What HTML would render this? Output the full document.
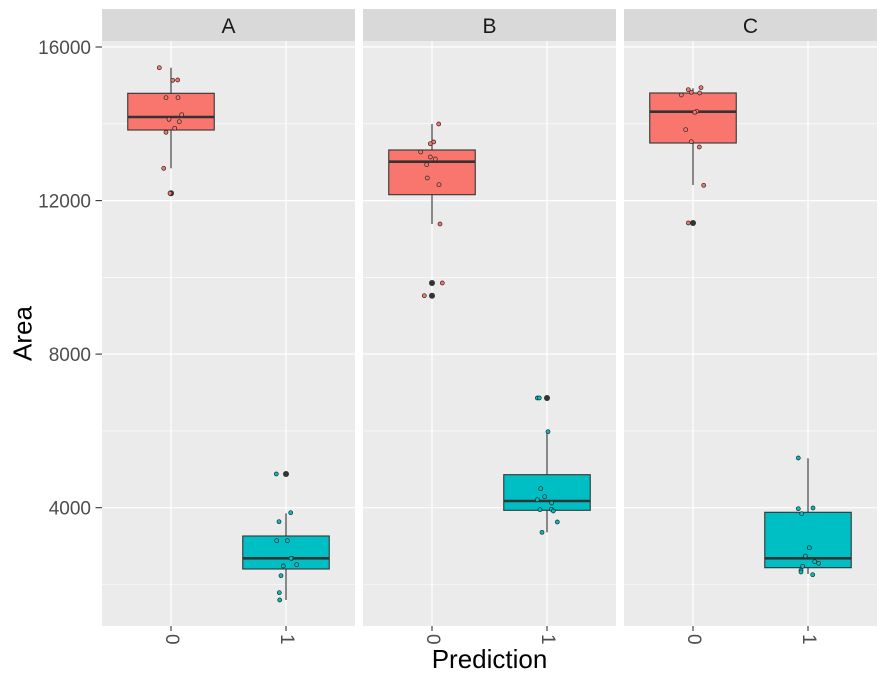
<!DOCTYPE html>
<html>
<head>
<meta charset="utf-8">
<style>
  html, body { margin: 0; padding: 0; background: #ffffff; }
  svg { display: block; font-family: "Liberation Sans", Arial, sans-serif; }
</style>
</head>
<body>
<svg width="884" height="681" viewBox="0 0 884 681" xmlns="http://www.w3.org/2000/svg">
  <rect x="0" y="0" width="884" height="681" fill="#ffffff"/>

  <!-- Strips -->
  <rect x="102" y="9" width="253" height="32" fill="#D9D9D9"/>
  <rect x="363" y="9" width="253" height="32" fill="#D9D9D9"/>
  <rect x="624" y="9" width="253" height="32" fill="#D9D9D9"/>
  <text x="228.5" y="33" font-size="21" fill="#1A1A1A" text-anchor="middle">A</text>
  <text x="489.5" y="33" font-size="21" fill="#1A1A1A" text-anchor="middle">B</text>
  <text x="750.5" y="33" font-size="21" fill="#1A1A1A" text-anchor="middle">C</text>

  <!-- Panels -->
  <g>
    <rect x="102" y="41" width="253" height="585" fill="#EBEBEB"/>
    <rect x="363" y="41" width="253" height="585" fill="#EBEBEB"/>
    <rect x="624" y="41" width="253" height="585" fill="#EBEBEB"/>
  </g>

  <!-- Minor grid -->
  <g stroke="#ffffff" stroke-width="0.6">
    <line x1="102" x2="355" y1="123.8" y2="123.8"/><line x1="363" x2="616" y1="123.8" y2="123.8"/><line x1="624" x2="877" y1="123.8" y2="123.8"/>
    <line x1="102" x2="355" y1="277.4" y2="277.4"/><line x1="363" x2="616" y1="277.4" y2="277.4"/><line x1="624" x2="877" y1="277.4" y2="277.4"/>
    <line x1="102" x2="355" y1="430.9" y2="430.9"/><line x1="363" x2="616" y1="430.9" y2="430.9"/><line x1="624" x2="877" y1="430.9" y2="430.9"/>
    <line x1="102" x2="355" y1="584.5" y2="584.5"/><line x1="363" x2="616" y1="584.5" y2="584.5"/><line x1="624" x2="877" y1="584.5" y2="584.5"/>
  </g>
  <!-- Major grid -->
  <g stroke="#ffffff" stroke-width="1.2">
    <line x1="102" x2="355" y1="47" y2="47"/><line x1="363" x2="616" y1="47" y2="47"/><line x1="624" x2="877" y1="47" y2="47"/>
    <line x1="102" x2="355" y1="200.6" y2="200.6"/><line x1="363" x2="616" y1="200.6" y2="200.6"/><line x1="624" x2="877" y1="200.6" y2="200.6"/>
    <line x1="102" x2="355" y1="354.1" y2="354.1"/><line x1="363" x2="616" y1="354.1" y2="354.1"/><line x1="624" x2="877" y1="354.1" y2="354.1"/>
    <line x1="102" x2="355" y1="507.7" y2="507.7"/><line x1="363" x2="616" y1="507.7" y2="507.7"/><line x1="624" x2="877" y1="507.7" y2="507.7"/>
    <line x1="171" x2="171" y1="41" y2="626"/><line x1="286" x2="286" y1="41" y2="626"/>
    <line x1="432" x2="432" y1="41" y2="626"/><line x1="547" x2="547" y1="41" y2="626"/>
    <line x1="693" x2="693" y1="41" y2="626"/><line x1="808" x2="808" y1="41" y2="626"/>
  </g>

  <!-- Boxplots -->
  <g stroke="#333333" stroke-width="1.1">
    <!-- A0 -->
    <line x1="171" x2="171" y1="67.7" y2="93.3"/><line x1="171" x2="171" y1="130" y2="168.3"/>
    <rect x="127.75" y="93.3" width="86.5" height="36.7" fill="#F8766D"/>
    <line x1="127.75" x2="214.25" y1="117" y2="117" stroke-width="2.6"/>
    <!-- A1 -->
    <line x1="286" x2="286" y1="513.3" y2="536"/><line x1="286" x2="286" y1="569" y2="600"/>
    <rect x="242.75" y="536" width="86.5" height="33" fill="#00BFC4"/>
    <line x1="242.75" x2="329.25" y1="558.3" y2="558.3" stroke-width="2.6"/>
    <!-- B0 -->
    <line x1="432" x2="432" y1="124" y2="150"/><line x1="432" x2="432" y1="194.7" y2="224"/>
    <rect x="388.75" y="150" width="86.5" height="44.7" fill="#F8766D"/>
    <line x1="388.75" x2="475.25" y1="161.7" y2="161.7" stroke-width="2.6"/>
    <!-- B1 -->
    <line x1="547" x2="547" y1="431.7" y2="474.7"/><line x1="547" x2="547" y1="510.3" y2="532.3"/>
    <rect x="503.75" y="474.7" width="86.5" height="35.6" fill="#00BFC4"/>
    <line x1="503.75" x2="590.25" y1="501" y2="501" stroke-width="2.6"/>
    <!-- C0 -->
    <line x1="693" x2="693" y1="88.3" y2="93"/><line x1="693" x2="693" y1="143" y2="185"/>
    <rect x="649.75" y="93" width="86.5" height="50" fill="#F8766D"/>
    <line x1="649.75" x2="736.25" y1="111.7" y2="111.7" stroke-width="2.6"/>
    <!-- C1 -->
    <line x1="808" x2="808" y1="458.3" y2="512.3"/><line x1="808" x2="808" y1="567.7" y2="574"/>
    <rect x="764.75" y="512.3" width="86.5" height="55.4" fill="#00BFC4"/>
    <line x1="764.75" x2="851.25" y1="558.3" y2="558.3" stroke-width="2.6"/>
  </g>

  <!-- Outliers -->
  <g fill="#333333">
    <circle cx="171" cy="193.3" r="3"/>
    <circle cx="286" cy="474" r="3"/>
    <circle cx="432" cy="283" r="3"/>
    <circle cx="432" cy="295.7" r="3"/>
    <circle cx="547" cy="398" r="3"/>
    <circle cx="693" cy="223" r="3"/>
  </g>

  <!-- Jitter points -->
  <g fill="#F8766D" stroke="#222222" stroke-width="0.7">
    <circle cx="159.3" cy="67.7" r="2"/><circle cx="172.7" cy="80.3" r="2"/><circle cx="177.7" cy="80" r="2"/>
    <circle cx="166" cy="97.7" r="2"/><circle cx="178" cy="97.7" r="2"/><circle cx="181.7" cy="114.7" r="2"/>
    <circle cx="169" cy="119.3" r="2"/><circle cx="179.3" cy="121.7" r="2"/><circle cx="174.7" cy="128.3" r="2"/>
    <circle cx="166" cy="132.3" r="2"/><circle cx="163.7" cy="168.3" r="2"/><circle cx="170" cy="193.3" r="2"/>

    <circle cx="438.7" cy="124" r="2"/><circle cx="433.7" cy="142" r="2"/><circle cx="430.3" cy="143.7" r="2"/>
    <circle cx="420.7" cy="152" r="2"/><circle cx="430.3" cy="157" r="2"/><circle cx="435.3" cy="159" r="2"/>
    <circle cx="426.7" cy="164.7" r="2"/><circle cx="427.3" cy="178" r="2"/><circle cx="439" cy="184.7" r="2"/>
    <circle cx="440" cy="224" r="2"/><circle cx="442.3" cy="283" r="2"/><circle cx="424.3" cy="295.7" r="2"/>

    <circle cx="688.3" cy="89.7" r="2"/><circle cx="701" cy="87.7" r="2"/><circle cx="691.3" cy="92.3" r="2"/>
    <circle cx="699.7" cy="93" r="2"/><circle cx="681.3" cy="95" r="2"/><circle cx="696.7" cy="111.3" r="2"/>
    <circle cx="694.7" cy="112.3" r="2"/><circle cx="685.7" cy="129.7" r="2"/><circle cx="691.3" cy="141.7" r="2"/>
    <circle cx="699.3" cy="147" r="2"/><circle cx="703.7" cy="185.3" r="2"/><circle cx="688.3" cy="223" r="2"/>
  </g>
  <g fill="#00BFC4" stroke="#222222" stroke-width="0.7">
    <circle cx="276.3" cy="474" r="2"/><circle cx="290.7" cy="512.7" r="2"/><circle cx="279" cy="521.7" r="2"/>
    <circle cx="276.7" cy="540.7" r="2"/><circle cx="287.3" cy="540.7" r="2"/><circle cx="292" cy="558.3" r="2"/>
    <circle cx="291" cy="558.3" r="2"/><circle cx="296.7" cy="564.7" r="2"/><circle cx="283.3" cy="566" r="2"/>
    <circle cx="281" cy="575.7" r="2"/><circle cx="279.3" cy="592.7" r="2"/><circle cx="279.7" cy="600" r="2"/>

    <circle cx="537.3" cy="398" r="2"/><circle cx="539.3" cy="398" r="2"/><circle cx="548" cy="431.7" r="2"/>
    <circle cx="540.7" cy="488.7" r="2"/><circle cx="544.7" cy="496.7" r="2"/><circle cx="537.3" cy="499.7" r="2"/>
    <circle cx="551.7" cy="503" r="2"/><circle cx="540" cy="509.7" r="2"/><circle cx="551.3" cy="509.3" r="2"/>
    <circle cx="553.3" cy="511" r="2"/><circle cx="557.3" cy="522" r="2"/><circle cx="542" cy="532.3" r="2"/>

    <circle cx="798.3" cy="458" r="2"/><circle cx="798.3" cy="508.7" r="2"/><circle cx="813" cy="508" r="2"/>
    <circle cx="801.7" cy="513.7" r="2"/><circle cx="809.3" cy="547.7" r="2"/><circle cx="805.3" cy="556" r="2"/>
    <circle cx="814.7" cy="561.7" r="2"/><circle cx="818.7" cy="563.3" r="2"/><circle cx="802.7" cy="566.3" r="2"/>
    <circle cx="801" cy="570.3" r="2"/><circle cx="801" cy="572" r="2"/><circle cx="812.7" cy="574.7" r="2"/>
  </g>

  <!-- Y axis ticks -->
  <g stroke="#333333" stroke-width="1.1">
    <line x1="95.5" x2="102" y1="47" y2="47"/>
    <line x1="95.5" x2="102" y1="200.6" y2="200.6"/>
    <line x1="95.5" x2="102" y1="354.1" y2="354.1"/>
    <line x1="95.5" x2="102" y1="507.7" y2="507.7"/>
  </g>
  <g font-size="19" fill="#4D4D4D" text-anchor="end">
    <text x="91" y="54">16000</text>
    <text x="91" y="207.6">12000</text>
    <text x="91" y="361.1">8000</text>
    <text x="91" y="514.7">4000</text>
  </g>

  <!-- X axis ticks -->
  <g stroke="#333333" stroke-width="1.1">
    <line x1="171" x2="171" y1="626" y2="631"/><line x1="286" x2="286" y1="626" y2="631"/>
    <line x1="432" x2="432" y1="626" y2="631"/><line x1="547" x2="547" y1="626" y2="631"/>
    <line x1="693" x2="693" y1="626" y2="631"/><line x1="808" x2="808" y1="626" y2="631"/>
  </g>
  <g font-size="19" fill="#4D4D4D" dominant-baseline="central">
    <text transform="translate(171.5,634) rotate(90)">0</text>
    <text transform="translate(286.5,634) rotate(90)">1</text>
    <text transform="translate(432.5,634) rotate(90)">0</text>
    <text transform="translate(547.5,634) rotate(90)">1</text>
    <text transform="translate(693.5,634) rotate(90)">0</text>
    <text transform="translate(808.5,634) rotate(90)">1</text>
  </g>

  <!-- Axis titles -->
  <text x="489.5" y="668" font-size="26" fill="#000000" text-anchor="middle">Prediction</text>
  <text transform="translate(31.5,333.5) rotate(-90)" font-size="26" fill="#000000" text-anchor="middle">Area</text>
</svg>
</body>
</html>
